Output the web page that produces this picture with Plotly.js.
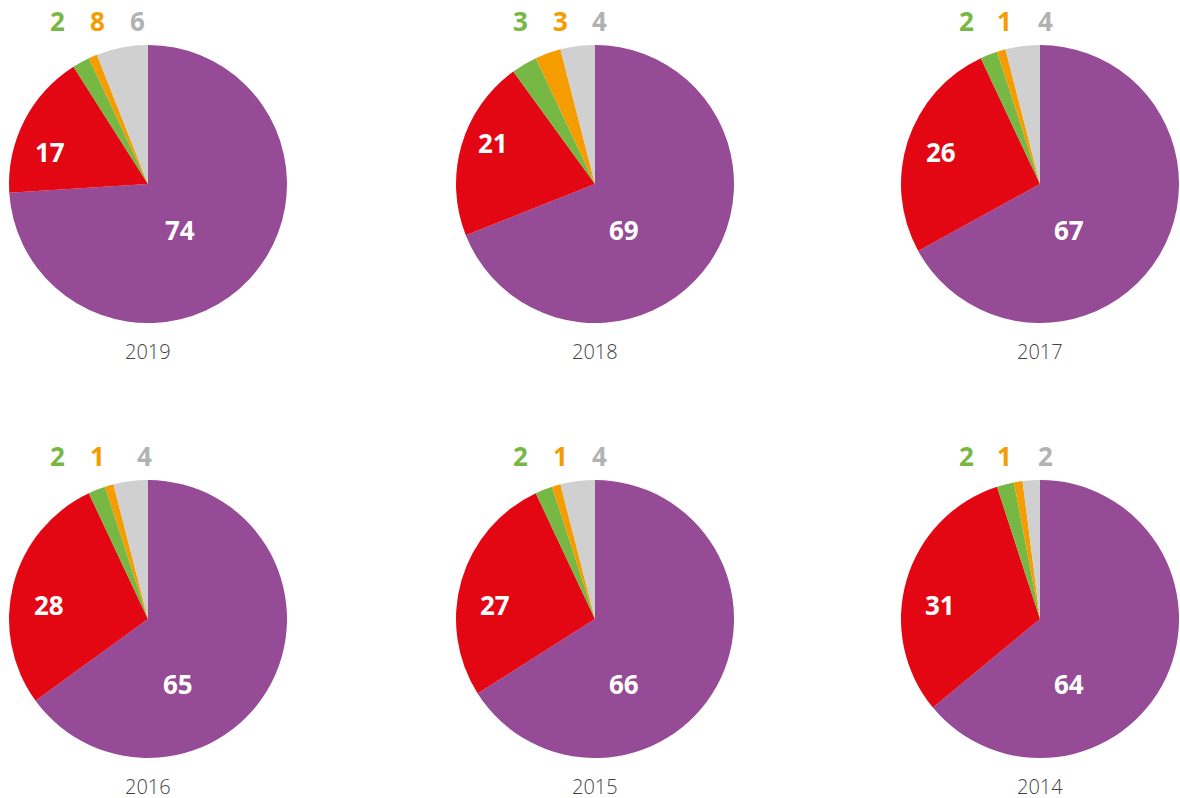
<!DOCTYPE html>
<html>
<head>
<meta charset="utf-8">
<script src="https://cdn.plot.ly/plotly-3.0.1.min.js"></script>
<style>
  html, body { margin: 0; padding: 0; background: #ffffff; }
  #chart { width: 1180px; height: 798px; }
</style>
</head>
<body>
<div id="chart"></div>
<script>
// ---- data ----
const years = ['2019', '2018', '2017', '2016', '2015', '2014'];
const purpleValues = [74, 69, 67, 65, 66, 64];
const redValues = [17, 21, 26, 28, 27, 31];
const greenValues = [2, 3, 2, 2, 2, 2];
const orangeValues = [1, 3, 1, 1, 1, 1];
const grayValues = [6, 4, 4, 4, 4, 2];
// labels as printed in the source (2019 orange label reads "8")
const greenLabels = ['2', '3', '2', '2', '2', '2'];
const orangeLabels = ['8', '3', '1', '1', '1', '1'];
const grayLabels = ['6', '4', '4', '4', '4', '2'];

// ---- styling / layout ----
const colors = ['#954b95', '#e30613', '#76b843', '#f59c00', '#d0d0d0'];
const labelColors = {green: '#76b843', orange: '#f59c00', gray: '#b2b2b2'};
const W = 1180, H = 798, R = 139;
const centers = [[148, 184], [595, 184], [1040, 184], [148, 619], [595, 619], [1040, 619]];
const smallLabelX = [
  [-91, -51, -11], [-75, -35, 4], [-74, -35, 5],
  [-91, -51, -4], [-75, -35, 4], [-74, -35, 5]
];
const bigLabelOff = [
  {p: [32, 46], r: [-98, -32]}, {p: [29, 46], r: [-102, -41]}, {p: [29, 46], r: [-99, -32]},
  {p: [30, 65], r: [-99, -14]}, {p: [29, 65], r: [-100, -14]}, {p: [29, 65], r: [-100, -14]}
];

const px = x => x / W;
const py = y => 1 - y / H;

const traces = [];
const annotations = [];
years.forEach((yr, i) => {
  const [cx, cy] = centers[i];
  traces.push({
    type: 'pie',
    values: [purpleValues[i], redValues[i], greenValues[i], orangeValues[i], grayValues[i]],
    labels: ['a', 'b', 'c', 'd', 'e'],
    marker: {colors: colors, line: {width: 0}},
    sort: false,
    direction: 'clockwise',
    rotation: 0,
    textinfo: 'none',
    hoverinfo: 'none',
    showlegend: false,
    domain: {x: [px(cx - R), px(cx + R)], y: [py(cy + R), py(cy - R)]}
  });
  const bold = {family: 'Open Sans, sans-serif', size: 26, weight: 700};
  annotations.push({text: String(purpleValues[i]), x: px(cx + bigLabelOff[i].p[0]), y: py(cy + bigLabelOff[i].p[1]),
    xref: 'paper', yref: 'paper', showarrow: false, xanchor: 'center', yanchor: 'middle',
    font: Object.assign({}, bold, {color: '#ffffff'})});
  annotations.push({text: String(redValues[i]), x: px(cx + bigLabelOff[i].r[0]), y: py(cy + bigLabelOff[i].r[1]),
    xref: 'paper', yref: 'paper', showarrow: false, xanchor: 'center', yanchor: 'middle',
    font: Object.assign({}, bold, {color: '#ffffff'})});
  const smallY = cy - 163;
  [[greenLabels[i], labelColors.green], [orangeLabels[i], labelColors.orange], [grayLabels[i], labelColors.gray]].forEach((d, k) => {
    annotations.push({text: d[0], x: px(cx + smallLabelX[i][k]), y: py(smallY),
      xref: 'paper', yref: 'paper', showarrow: false, xanchor: 'center', yanchor: 'middle',
      font: Object.assign({}, bold, {color: d[1]})});
  });
  annotations.push({text: yr, x: px(cx), y: py(cy + 167), height: 20, borderpad: 0,
    xref: 'paper', yref: 'paper', showarrow: false, xanchor: 'center', yanchor: 'middle',
    font: {family: 'Open Sans, sans-serif', size: 20, weight: 300, color: '#444444'}});
});

const layout = {
  width: W, height: H,
  margin: {l: 0, r: 0, t: 0, b: 0},
  paper_bgcolor: '#ffffff',
  plot_bgcolor: '#ffffff',
  annotations: annotations,
  showlegend: false
};

Plotly.newPlot('chart', traces, layout, {displayModeBar: false, staticPlot: true});
</script>
</body>
</html>
